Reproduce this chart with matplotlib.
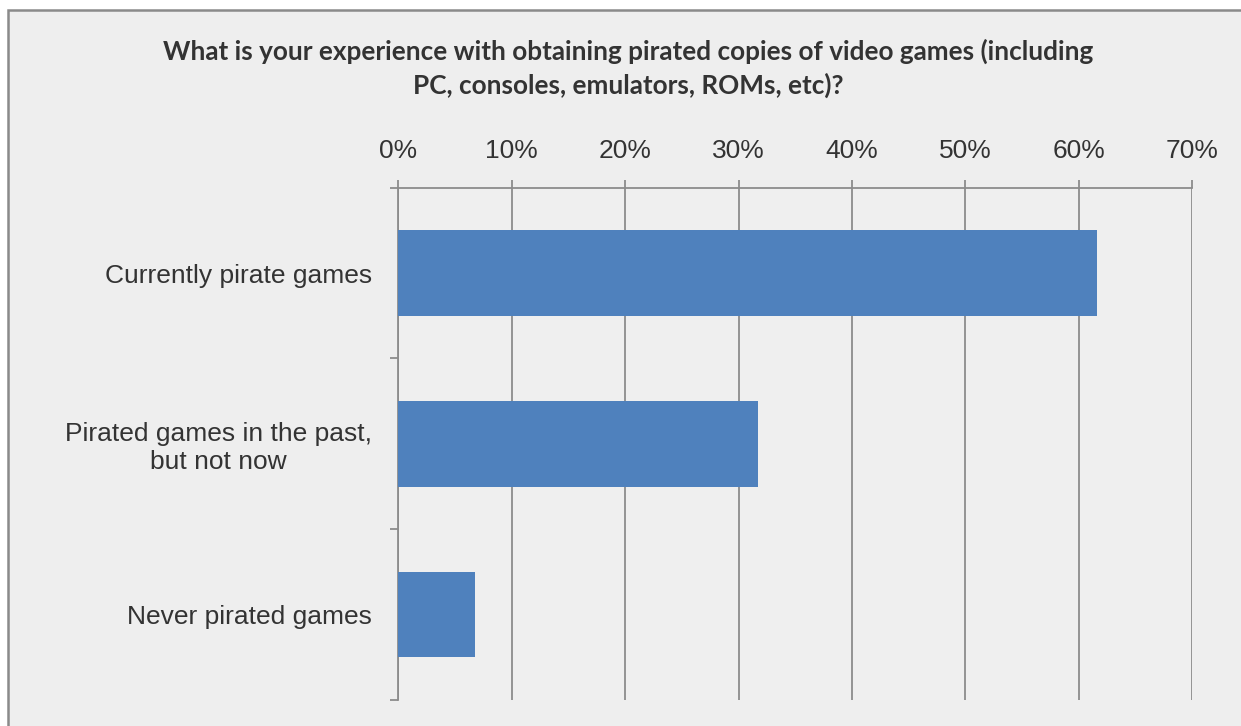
import numpy as np
import matplotlib
matplotlib.use('Agg')
import matplotlib.pyplot as plt
from matplotlib.patches import Rectangle

categories = ['Currently pirate games', 'Pirated games in the past,\nbut not now', 'Never pirated games']
shares = [61.6, 31.7, 6.8]
x_ticks = [0, 10, 20, 30, 40, 50, 60, 70]
x_labels = ['%d%%' % t for t in x_ticks]

title = ('What is your experience with obtaining pirated copies of video games (including\n'
         'PC, consoles, emulators, ROMs, etc)?')

W, H = 1241, 726
bg = '#eeeeee'
grid_col = '#8c8c8c'
text_col = '#333333'

fig = plt.figure(figsize=(W / 100, H / 100), dpi=100, facecolor='white')

# outer chart frame (white strip above and to the left)
frame = Rectangle((7.5 / W, -0.05), 1.1, 1 - 9.5 / H + 0.05, transform=fig.transFigure,
                  facecolor=bg, edgecolor='#8a8a8a', linewidth=1.8, zorder=-10)
fig.patches.append(frame)

ax = fig.add_axes([398.3 / W, 1 - 700 / H, (1192.3 - 398.3) / W, (700 - 187.7) / H])
ax.set_facecolor('#efefef')

y = np.arange(len(categories))
ax.barh(y, shares, height=0.5, color='#4f81bd', zorder=3)

ax.set_xlim(0, 70)
ax.set_ylim(2.5, -0.5)

ax.xaxis.tick_top()
ax.set_xticks(x_ticks)
ax.set_xticklabels(x_labels, fontsize=19, color=text_col, family='Liberation Sans')
ax.tick_params(axis='x', direction='out', length=6, width=1.3, color=grid_col, pad=12)
ax.grid(axis='x', color=grid_col, linewidth=1.3, zorder=1)

ax.set_yticks(y)
ax.set_yticklabels(categories, fontsize=19, color=text_col, family='Liberation Sans',
                   multialignment='center', linespacing=1.2)
ax.tick_params(axis='y', which='major', length=0, pad=19)
ax.set_yticks([-0.5, 0.5, 1.5, 2.5], minor=True)
ax.tick_params(axis='y', which='minor', direction='out', length=6, width=1.3, color=grid_col)

for side in ['right', 'bottom']:
    ax.spines[side].set_visible(False)
for side in ['top', 'left']:
    ax.spines[side].set_color(grid_col)
    ax.spines[side].set_linewidth(1.3)

fig.text(628 / W, 1 - 68.5 / H, title, ha='center', va='center', fontsize=18.8,
         fontweight='bold', color=text_col, family='Lato', linespacing=1.42)

fig.savefig('out.png', dpi=100, facecolor=fig.get_facecolor())
